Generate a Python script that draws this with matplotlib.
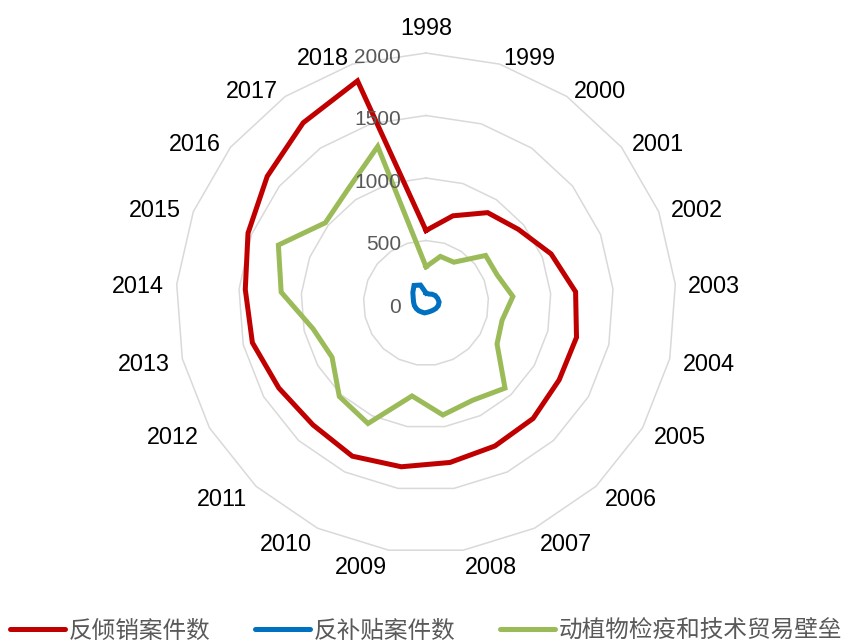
import numpy as np
import matplotlib
matplotlib.use("Agg")
import matplotlib.pyplot as plt
from matplotlib.lines import Line2D

# 数据
years = [str(y) for y in range(1998, 2019)]
anti_dumping = [580, 730, 875, 945, 1075, 1200, 1235, 1230, 1260, 1270, 1290,
                1325, 1360, 1330, 1360, 1425, 1450, 1530, 1625, 1745, 1860]
anti_subsidy = [80, 75, 85, 95, 100, 105, 100, 90, 80, 75, 75,
                80, 80, 85, 90, 95, 100, 110, 135, 170, 150]
sps_tbt = [290, 390, 395, 610, 612, 697, 624, 656, 929, 863, 906,
           752, 1070, 1020, 868, 927, 1162, 1269, 1030, 1105, 1311]
ring_values = [0, 500, 1000, 1500, 2000]

series_names = ["反倾销案件数", "反补贴案件数", "动植物检疫和技术贸易壁垒"]
series_colors = ["#C00000", "#0070C0", "#9BBB59"]

fig = plt.figure(figsize=(8.5, 6.44), dpi=100)
ax = fig.add_axes([0.2071, 0.1413, 0.5882, 0.7764], projection="polar")
ax.set_theta_zero_location("N")
ax.set_theta_direction(-1)
ax.set_ylim(0, 2000)
ax.grid(False)
ax.spines["polar"].set_visible(False)
ax.set_xticks([])
ax.set_yticks([])

n = len(years)
theta = np.linspace(0, 2 * np.pi, n, endpoint=False)
theta_c = np.append(theta, theta[0])

# 多边形网格
for rv in ring_values[1:]:
    ax.plot(theta_c, [rv] * (n + 1), color="#D9D9D9", lw=1.1, clip_on=False, zorder=1)

# 数据线
for vals, col in zip([anti_dumping, anti_subsidy, sps_tbt], series_colors):
    ax.plot(theta_c, vals + vals[:1], color=col, lw=3.6, zorder=3,
            solid_joinstyle="miter", clip_on=False)

# 径向刻度标签
for rv in ring_values:
    ax.annotate(str(rv), xy=(0, rv), xytext=(-25, -2), textcoords="offset pixels",
                ha="right", va="center_baseline", fontsize=15, color="#595959",
                family="Liberation Sans", annotation_clip=False)

# 年份标签
for t, lab in zip(theta, years):
    s, c = np.sin(t), np.cos(t)
    if abs(s) < 0.05:
        ha = "center"
        dx, dy = 0, 27 if c > 0 else -14
    else:
        ha = "left" if s > 0 else "right"
        dx = 13 * s
        dy = 9 * c if c > 0 else 15 * c
    ax.annotate(lab, xy=(t, 2000), xytext=(dx, dy), textcoords="offset pixels",
                ha=ha, va="center_baseline", fontsize=16.8, color="black",
                family="Liberation Sans", annotation_clip=False)

handles = [Line2D([0], [0], color=c, lw=3.6, solid_capstyle="round") for c in series_colors]
leg = fig.legend(handles, series_names, loc="center left", bbox_to_anchor=(10 / 850, 1 - 631 / 644),
                 ncol=3, frameon=False, handlelength=2.33, handletextpad=0.15,
                 columnspacing=1.9, borderpad=0, borderaxespad=0,
                 prop={"family": ["Noto Sans CJK SC", "DejaVu Sans"], "size": 17, "weight": "light"})
for txt in leg.get_texts():
    txt.set_color("#595959")

fig.savefig("out.png", dpi=100)
